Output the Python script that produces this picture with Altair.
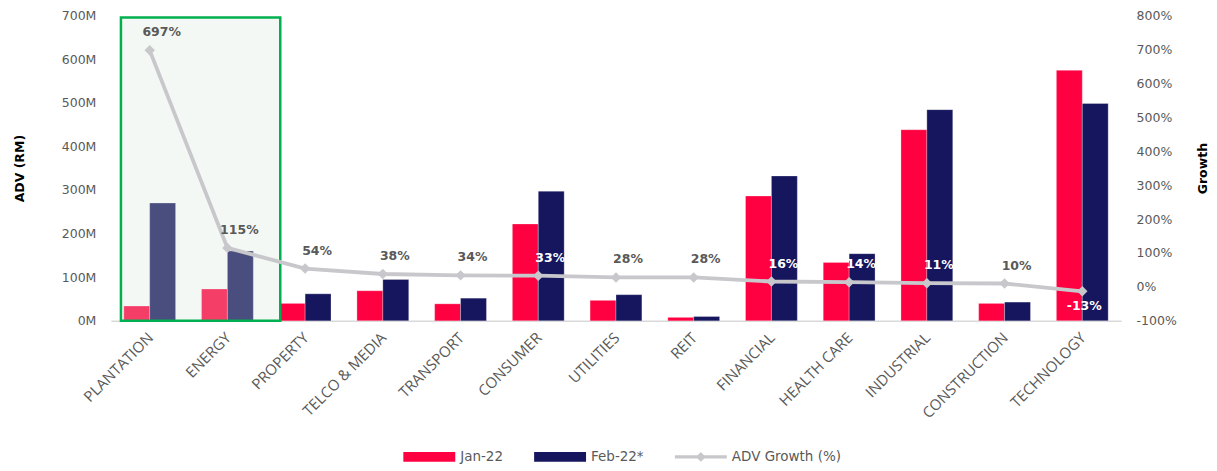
import altair as alt
import pandas as pd

sectors = ["PLANTATION", "ENERGY", "PROPERTY", "TELCO & MEDIA", "TRANSPORT", "CONSUMER",
           "UTILITIES", "REIT", "FINANCIAL", "HEALTH CARE", "INDUSTRIAL", "CONSTRUCTION", "TECHNOLOGY"]
jan_22 = [34, 73, 40, 69, 39, 222, 47, 8, 286, 134, 438, 40, 574]
feb_22 = [270, 160, 62, 95, 52, 297, 60, 10, 332, 154, 484, 43, 498]
growth = [697, 115, 54, 38, 34, 33, 28, 28, 16, 14, 11, 10, -13]
series = ["Jan-22", "Feb-22*", "ADV Growth (%)"]
left_ticks = [0, 100, 200, 300, 400, 500, 600, 700]
right_ticks = [-100, 0, 100, 200, 300, 400, 500, 600, 700, 800]

RED = "#ff0040"
NAVY = "#16165e"
GREY = "#c8c8cc"
TXT = "#595959"
FONT = "DejaVu Sans"

df = pd.DataFrame({"Sector": sectors, "Jan-22": jan_22, "Feb-22*": feb_22, "Growth": growth})
legend_df = pd.DataFrame({"Series": series})

x_scale = alt.Scale(domain=sectors, paddingInner=0, paddingOuter=0)
x_axis = alt.Axis(orient="bottom", title=None, labelAngle=-45, labelFontSize=15, labelColor=TXT,
                  labelFont="Open Sans", domainColor="#d9d9d9", domainWidth=1.5,
                  ticks=False, labelPadding=9, labelOffset=-4, grid=False)
x_enc = alt.X("Sector:N", sort=sectors, scale=x_scale, axis=x_axis)

y_left_scale = alt.Scale(domain=[0, 700], nice=False, zero=True)
y_right_scale = alt.Scale(domain=[-100, 800], nice=False, zero=False)
y_left_axis = alt.Axis(orient="left", values=left_ticks, labelExpr="datum.value + 'M'",
                       title="ADV (RM)", titleFontWeight="bold", titleColor="black",
                       titleFontSize=12.5, titleFont=FONT, titlePadding=35,
                       labelPadding=15, ticks=False, domain=False, grid=False,
                       labelColor=TXT, labelFontSize=12.5, labelFont=FONT)
y_right_axis = alt.Axis(orient="right", values=right_ticks, labelExpr="datum.value + '%'",
                        title="Growth", titleAngle=270, titleFontWeight="bold",
                        titleColor="black", titleFontSize=12.5, titleFont=FONT,
                        titlePadding=33, labelPadding=15, ticks=False, domain=False,
                        grid=False, labelColor=TXT, labelFontSize=12.5, labelFont=FONT)

bars = alt.Chart(df).transform_fold(["Jan-22", "Feb-22*"], as_=["Series", "Value"]).mark_bar(
    stroke="white", strokeWidth=0.8, strokeOpacity=0.35
).encode(
    x=x_enc,
    xOffset=alt.XOffset("Series:N", sort=series[:2],
                        scale=alt.Scale(domain=series[:2], paddingOuter=0.5, paddingInner=0)),
    y=alt.Y("Value:Q", scale=y_left_scale, axis=y_left_axis),
    fill=alt.Fill("Series:N", scale=alt.Scale(domain=series[:2], range=[RED, NAVY]), legend=None),
)

box = alt.Chart(pd.DataFrame({"k": [0]})).mark_rect(
    fill="#d6e4d6", fillOpacity=0.27, stroke="#00b050", strokeWidth=2.5
).encode(
    x=alt.X(datum=sectors[0], type="nominal", bandPosition=0.13, scale=x_scale, axis=x_axis),
    x2=alt.X2(datum=sectors[2], bandPosition=0.18),
    y=alt.Y(datum=695, type="quantitative", scale=y_left_scale, axis=y_left_axis),
    y2=alt.Y2(datum=0),
)

left_layer = alt.layer(bars, box)

y_right = alt.Y("Growth:Q", scale=y_right_scale, axis=y_right_axis)

base = alt.Chart(df).transform_calculate(Label="datum.Growth + '%'")

line = base.mark_line(color=GREY, strokeWidth=3.8).encode(x=x_enc, y=y_right)
pts = base.mark_point(shape="diamond", filled=True, color=GREY, size=110, opacity=1).encode(
    x=x_enc, y=y_right)

label_color = alt.condition("datum.Growth < 50 && datum['Feb-22*'] > 120",
                            alt.value("white"), alt.value(TXT))
pos_labels = base.transform_filter("datum.Growth >= 0").mark_text(
    fontWeight="bold", fontSize=12.5, font=FONT, dx=12, dy=-18
).encode(x=x_enc, y=y_right, text="Label:N", color=label_color)
neg_labels = base.transform_filter("datum.Growth < 0").mark_text(
    fontWeight="bold", fontSize=12.5, font=FONT, dx=2, dy=15
).encode(x=x_enc, y=y_right, text="Label:N", color=label_color)

rect_path = "M-1,-0.19H1V0.19H-1Z"
line_path = "M-1,-0.06H1V0.06H-1Z M-0.19,0L0,-0.19L0.19,0L0,0.19Z"
leg = alt.Legend(orient="none", legendX=293, legendY=416, direction="horizontal", title=None,
                 symbolSize=2704, symbolOpacity=1, symbolStrokeWidth=0, labelFontSize=13.5,
                 labelColor=TXT, labelFont=FONT, columnPadding=31, labelOffset=5)
legend_layer = alt.Chart(legend_df).mark_point(filled=True, opacity=0).encode(
    color=alt.Color("Series:N", sort=series,
                    scale=alt.Scale(domain=series, range=[RED, NAVY, GREY]), legend=leg),
    shape=alt.Shape("Series:N", sort=series,
                    scale=alt.Scale(domain=series, range=[rect_path, rect_path, line_path]),
                    legend=leg),
)

right_layer = alt.layer(line, pts, pos_labels, neg_labels, legend_layer)

chart = alt.layer(left_layer, right_layer).resolve_scale(y="independent").properties(
    width=1012, height=306,
    padding={"top": 1, "left": 5, "right": 0, "bottom": 0},
).configure(font=FONT).configure_view(stroke=None, strokeWidth=0)

chart.save("out.html", embed_options={"renderer": "svg", "actions": False})
